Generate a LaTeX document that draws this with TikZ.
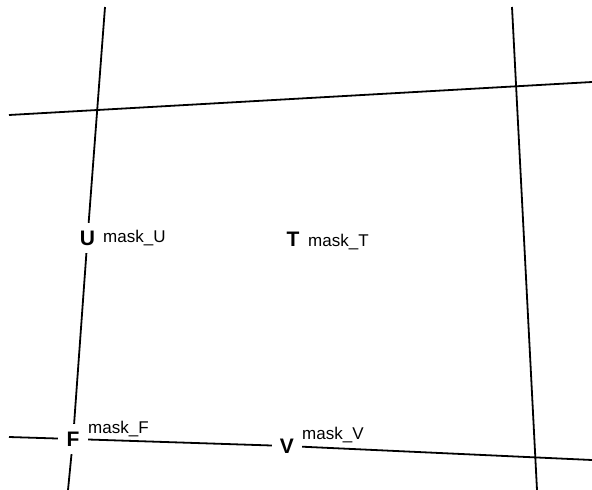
\documentclass[tikz,border=0pt]{standalone}
\usepackage{fontspec}
\setmainfont{Liberation Sans}
\usetikzlibrary{positioning}

\tikzset{
  edge/.style={line width=1.8pt, draw=black},
  vertex/.style={circle, minimum size=30pt, inner sep=0pt,
                 font=\fontsize{21}{21}\selectfont\bfseries},
  mask/.style={anchor=base west, inner sep=0pt,
               font=\fontsize{17}{17}\selectfont},
}

\begin{document}
\begin{tikzpicture}[x=1pt, y=-1pt]
    \useasboundingbox (0,0) rectangle (592,490);

    % end points of the four grid lines
    \coordinate (lt) at (105,7);
    \coordinate (lb) at (68,490);
    \coordinate (rt) at (512,7);
    \coordinate (rb) at (537,490);
    \coordinate (tl) at (9,115);
    \coordinate (tr) at (592,82);
    \coordinate (bl) at (9,437);
    \coordinate (br) at (592,460);

    % sample points
    \node[vertex] (U) at (87.5,238) {U};
    \node[vertex] (T) at (293,239) {T};
    \node[vertex] (F) at (73,439) {F};
    \node[vertex] (V) at (287,446) {V};

    % mask labels
    \node[mask] (mU) at (103,242) {mask\_U};
    \node[mask] (mT) at (308,246) {mask\_T};
    \node[mask] (mF) at (88,433) {mask\_F};
    \node[mask] (mV) at (302,439) {mask\_V};

    % grid lines
    \draw[edge] (tl) -- (tr);
    \draw[edge] (rt) -- (rb);
    \draw[edge] (lt) -- (U) -- (F) -- (lb);
    \draw[edge] (bl) -- (F) -- (V) -- (br);
\end{tikzpicture}
\end{document}
